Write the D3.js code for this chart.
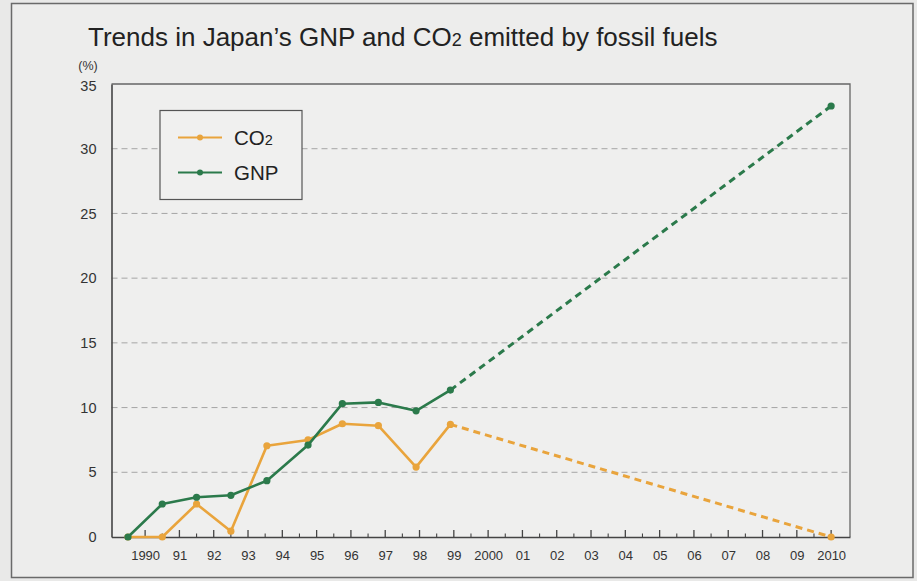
<!DOCTYPE html>
<html>
<head>
<meta charset="utf-8">
<script src="https://cdn.jsdelivr.net/npm/d3@7"></script>
<style>
  html, body { margin: 0; padding: 0; background: #ebebea; }
  svg { display: block; font-family: "Liberation Sans", Arial, sans-serif; }
</style>
</head>
<body>
<svg id="chart" width="917" height="581"></svg>
<script>
// ---- data ----
const pointYears = [1989.5, 1990.5, 1991.5, 1992.5, 1993.55, 1994.75, 1995.75, 1996.8, 1997.9, 1998.9];
const gnpValues  = [0, 2.55, 3.07, 3.22, 4.35, 7.1, 10.3, 10.4, 9.75, 11.35];
const co2Values  = [0, 0, 2.55, 0.45, 7.05, 7.5, 8.75, 8.6, 5.4, 8.7];
const projectionYear = 2010;
const gnpProjection = 33.3;
const co2Projection = 0;
const tickYears  = d3.range(1990, 2011);
const tickLabels = ["1990","91","92","93","94","95","96","97","98","99","2000","01","02","03","04","05","06","07","08","09","2010"];
const yTicks = [0, 5, 10, 15, 20, 25, 30, 35];

const svg = d3.select("#chart");
const W = 917, H = 581;
const pLeft = 111.5, pRight = 850, pTop = 84, pBottom = 537;

const x = d3.scaleLinear().domain([1989.02, 2010.55]).range([pLeft, pRight]);
const y = d3.scaleLinear().domain([0, 35]).range([pBottom, pTop]);

const orange = "#e9a43c", green = "#2b7a4b";

// page background
svg.append("rect").attr("x", 0).attr("y", 0).attr("width", W).attr("height", H).attr("fill", "#e9e9e8");
svg.append("rect").attr("x", 11.5).attr("y", 3.5).attr("width", 901.5).attr("height", 574)
  .attr("fill", "#ededec").attr("stroke", "#6a6a6a").attr("stroke-width", 1.5);

// plot area
svg.append("rect").attr("x", pLeft).attr("y", pTop).attr("width", pRight - pLeft).attr("height", pBottom - pTop)
  .attr("fill", "#efefee");

// gridlines
svg.append("g").selectAll("line").data(yTicks.filter(d => d > 0 && d < 35)).join("line")
  .attr("x1", pLeft).attr("x2", pRight)
  .attr("y1", d => y(d)).attr("y2", d => y(d))
  .attr("stroke", "#a5a5a5").attr("stroke-width", 1).attr("stroke-dasharray", "6,4");

// frame top/right
svg.append("path")
  .attr("d", `M${pLeft},${pTop}H${pRight}V${pBottom}`)
  .attr("fill", "none").attr("stroke", "#666").attr("stroke-width", 1.3);

// y axis
const yAxis = d3.axisLeft(y).tickValues(yTicks).tickSize(0).tickPadding(15);
const gy = svg.append("g").attr("transform", `translate(${pLeft},0)`).call(yAxis);
gy.select(".domain").attr("stroke", "#444").attr("stroke-width", 1.6);
gy.selectAll("text").attr("font-size", 14.5).attr("fill", "#333").attr("font-family", "Liberation Sans, Arial, sans-serif");
gy.selectAll(".tick").filter(d => d === 35).select("text").attr("dy", "0.45em");

svg.append("text").attr("x", 88).attr("y", 70).attr("text-anchor", "middle")
  .attr("font-size", 12.5).attr("fill", "#333").text("(%)");

// x axis
const xAxis = d3.axisBottom(x).tickValues(tickYears).tickSize(0).tickPadding(14)
  .tickFormat((d, i) => tickLabels[i]);
const gx = svg.append("g").attr("transform", `translate(0,${pBottom})`).call(xAxis);
gx.select(".domain").attr("stroke", "#444").attr("stroke-width", 1.6);
gx.selectAll("text").attr("font-size", 13).attr("fill", "#333").attr("font-family", "Liberation Sans, Arial, sans-serif");

// inward major ticks
svg.append("g").selectAll("line").data(tickYears).join("line")
  .attr("x1", d => x(d)).attr("x2", d => x(d))
  .attr("y1", pBottom).attr("y2", pBottom - 7)
  .attr("stroke", "#444").attr("stroke-width", 1.3);
// minor ticks
svg.append("g").selectAll("line").data(d3.range(1990.5, 2010, 1)).join("line")
  .attr("x1", d => x(d)).attr("x2", d => x(d))
  .attr("y1", pBottom).attr("y2", pBottom - 3.5)
  .attr("stroke", "#444").attr("stroke-width", 1.1);

// series
function drawSeries(values, proj, color) {
  const pts = pointYears.map((yr, i) => [yr, values[i]]);
  const line = d3.line().x(d => x(d[0])).y(d => y(d[1]));
  const last = pts[pts.length - 1];
  svg.append("path").datum([last, [projectionYear, proj]])
    .attr("d", line).attr("fill", "none").attr("stroke", color)
    .attr("stroke-width", 3).attr("stroke-dasharray", "7,5");
  svg.append("path").datum(pts)
    .attr("d", line).attr("fill", "none").attr("stroke", color)
    .attr("stroke-width", 2.6).attr("stroke-linejoin", "round");
  svg.append("g").selectAll("circle").data(pts.concat([[projectionYear, proj]])).join("circle")
    .attr("cx", d => x(d[0])).attr("cy", d => y(d[1])).attr("r", 3.6).attr("fill", color);
}
drawSeries(co2Values, co2Projection, orange);
drawSeries(gnpValues, gnpProjection, green);

// legend
const lg = svg.append("g");
lg.append("rect").attr("x", 160).attr("y", 110.5).attr("width", 142).attr("height", 89)
  .attr("fill", "#f0f0ef").attr("stroke", "#555").attr("stroke-width", 1.2);
const legendItems = [{name: "CO", sub: "2", color: orange, yy: 137.5}, {name: "GNP", sub: "", color: green, yy: 172.5}];
legendItems.forEach(it => {
  lg.append("line").attr("x1", 178).attr("x2", 222).attr("y1", it.yy).attr("y2", it.yy)
    .attr("stroke", it.color).attr("stroke-width", 2.2);
  lg.append("circle").attr("cx", 200).attr("cy", it.yy).attr("r", 3).attr("fill", it.color);
  const t = lg.append("text").attr("x", 234).attr("y", it.yy + 7).attr("font-size", 20.5).attr("fill", "#222").text(it.name);
  if (it.sub) t.append("tspan").attr("font-size", 14.5).text(it.sub);
});

// title
const title = svg.append("text").attr("x", 88).attr("y", 46).attr("font-size", 26).attr("fill", "#222")
  .text("Trends in Japan’s GNP and CO");
title.append("tspan").attr("font-size", 18).text("2");
title.append("tspan").text(" emitted by fossil fuels");
</script>
</body>
</html>
